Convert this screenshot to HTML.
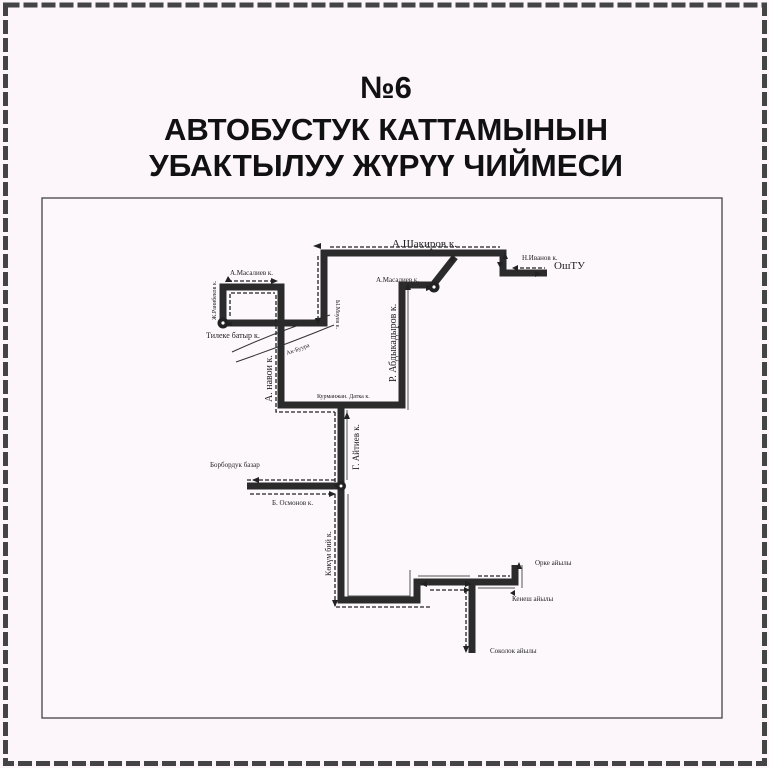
<!DOCTYPE html>
<html><head><meta charset="utf-8"><style>
html,body{margin:0;padding:0;background:#fcf6fb;}
svg{display:block;}
.t{font-family:"Liberation Serif",serif;fill:#222;}
</style></head><body>
<svg width="769" height="768" viewBox="0 0 769 768" xmlns="http://www.w3.org/2000/svg">
<rect x="0" y="0" width="769" height="768" fill="#fcf6fb"/>
<rect x="5.5" y="5" width="759" height="758.5" fill="none" stroke="#444" stroke-width="5" stroke-dasharray="14 4"/>
<g font-family="Liberation Sans, sans-serif" font-weight="bold" fill="#111" text-anchor="middle">
<text x="386" y="98" font-size="31">№6</text>
<text x="386" y="140" font-size="31" textLength="444" lengthAdjust="spacingAndGlyphs">АВТОБУСТУК КАТТАМЫНЫН</text>
<text x="386" y="176" font-size="31" textLength="474" lengthAdjust="spacingAndGlyphs">УБАКТЫЛУУ ЖҮРҮҮ ЧИЙМЕСИ</text>
</g>
<rect x="42" y="198" width="680" height="520" fill="#fdf8fc" stroke="#444" stroke-width="1.3"/>
<path d="M232 352 Q280 330 330 315" fill="none" stroke="#333" stroke-width="1"/>
<path d="M236 362 Q285 345 334 325" fill="none" stroke="#333" stroke-width="1"/>
<g fill="none" stroke="#2b2b2b" stroke-width="7" stroke-linejoin="miter">
<path d="M223 323 H324 V253 H503 V273 H547"/>
<path d="M223 323 V287 H281 V405 H402 V285 H433 L455 257"/>
<path d="M341 405 V600 H417 V582 H515 V565"/>
<path d="M472 582 V653"/>
<path d="M341 486 H247"/>
</g>
<g fill="none" stroke="#222" stroke-width="1.3" stroke-dasharray="4 2">
<path d="M318 256 V320 M230 316 V293 H275 M276 295 V412 H335 M335 412 V487 M247 480 H335 M250 494 H335 M335 494 V607 H430 M466 590 V650 M430 590 H470 M478 576 H510 M330 247 H500 M520 268 H545 M228 281 H275"/>
</g>
<g fill="none" stroke="#555" stroke-width="1">
<path d="M408 410 V290 M347 410 V480 M348 494 V596 H410 V570 M418 576 H470 M478 588 H515 M522 565 V588"/>
</g>
<g fill="#222">
<polygon points="313,246 321,243 321,249"/>
<polygon points="318,325 315,318 321,318"/>
<polygon points="232,282 228,276 225,282"/>
<polygon points="278,281 271,278 271,284"/>
<polygon points="232,322 226,324 232,326"/>
<polygon points="433,288 426,285 426,291"/>
<polygon points="408,283 405,290 411,290"/>
<polygon points="455,255 449,260 453,263"/>
<polygon points="500,268 497,262 503,262"/>
<polygon points="512,268 518,265 518,271"/>
<polygon points="252,480 259,477 259,483"/>
<polygon points="336,494 329,491 329,497"/>
<polygon points="347,412 344,419 350,419"/>
<polygon points="335,607 332,600 338,600"/>
<polygon points="420,584 427,581 427,587"/>
<polygon points="470,590 464,587 464,593"/>
<polygon points="466,653 463,646 469,646"/>
<polygon points="472,584 465,581 465,587"/>
<polygon points="519,562 516,569 522,569"/>
<polygon points="510,593 515,590 515,596"/>
<polygon points="542,274 535,271 535,277"/>
<polygon points="505,252 508,259 502,259"/>
</g>
<g>
<circle cx="223" cy="323" r="5.5" fill="#222"/><circle cx="223" cy="323" r="1.6" fill="#fff"/>
<circle cx="434" cy="287" r="5.5" fill="#222"/><circle cx="434" cy="287" r="1.6" fill="#fff"/>
<circle cx="341" cy="486" r="5" fill="#222"/><circle cx="341" cy="486" r="1.5" fill="#fff"/>
</g>
<g class="t">
<text x="392" y="247" font-size="11">А.Шакиров к.</text>
<text x="522" y="260" font-size="7">Н.Иванов к.</text>
<text x="554" y="269" font-size="11">ОшТУ</text>
<text x="230" y="275" font-size="7">А.Масалиев к.</text>
<text x="376" y="282" font-size="7">А.Масалиев к.</text>
<text x="206" y="338" font-size="8">Тилеке батыр к.</text>
<text x="317" y="398" font-size="6">Курманжан. Датка к.</text>
<text x="210" y="467" font-size="7">Борбордук базар</text>
<text x="272" y="505" font-size="7">Б. Осмонов к.</text>
<text x="535" y="565" font-size="7">Орке айылы</text>
<text x="512" y="601" font-size="7">Кенеш айылы</text>
<text x="490" y="653" font-size="7">Соколок айылы</text>
<text transform="translate(216,320) rotate(-90)" font-size="6">Ж.Ранибеков к.</text>
<text transform="translate(336,300) rotate(90)" font-size="6">Ы.Моуев к.</text>
<text transform="translate(272,402) rotate(-90)" font-size="10">А. навои к.</text>
<text transform="translate(396,382) rotate(-90)" font-size="10">Р. Абдыкадыров к.</text>
<text transform="translate(359,470) rotate(-90)" font-size="9">Г. Айтиев к.</text>
<text transform="translate(331,576) rotate(-90)" font-size="8">Көкүм бий к.</text>
<text transform="translate(287,355) rotate(-20)" font-size="6">Ак-Буура</text>
</g>
</svg>
</body></html>
